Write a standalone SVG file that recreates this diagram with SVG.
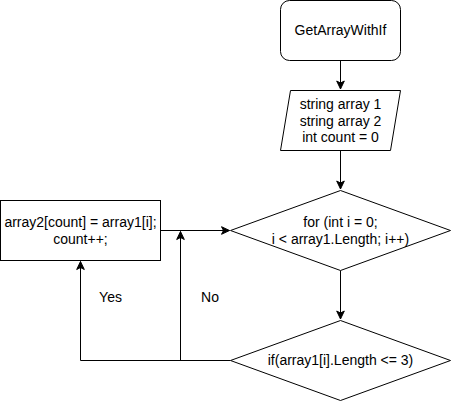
<svg xmlns="http://www.w3.org/2000/svg" width="452" height="401" viewBox="0 0 452 401">
<style>
.s{fill:#fff;stroke:#000;stroke-width:1}
.t{font-family:"Liberation Sans",Arial,sans-serif;font-size:14px;fill:#000;text-anchor:middle}
.c{fill:none;stroke:#000;stroke-width:1}
</style>
<defs>
<marker id="a" markerUnits="userSpaceOnUse" markerWidth="10" markerHeight="10" viewBox="0 0 10 10" refX="9" refY="5" orient="auto">
<path d="M1,1.2 L9,5 L1,8.8 L3,5 Z" fill="#000" stroke="#000" stroke-width="1"/>
</marker>
</defs>
<rect width="452" height="401" fill="#fff"/>
<g id="connectors">
<path class="c" d="M340.5,60.5 V89" marker-end="url(#a)"/>
<path class="c" d="M340.5,150.5 V189" marker-end="url(#a)"/>
<path class="c" d="M160.5,230.5 H229.5" marker-end="url(#a)"/>
<path class="c" d="M340.5,270.5 V319" marker-end="url(#a)"/>
<path class="c" d="M230.5,360.5 H80.5 V261.5" marker-end="url(#a)"/>
<path class="c" d="M180.5,360.5 V231.5" marker-end="url(#a)"/>
<text class="t" x="110.5" y="302">Yes</text>
<text class="t" x="210" y="302">No</text>
</g>
<g id="start">
<rect class="s" x="280.5" y="0.5" width="120" height="60" rx="9" ry="9"/>
<text class="t" x="340.5" y="35">GetArrayWithIf</text>
</g>
<g id="input">
<path class="s" d="M290.5,90.5 H400.5 L390.5,150.5 H280.5 Z"/>
<text class="t" x="340.5" y="109">string array 1</text>
<text class="t" x="340.5" y="125.5">string array 2</text>
<text class="t" x="340.5" y="142">int count = 0</text>
</g>
<g id="loop">
<path class="s" d="M340.5,190.5 L450.5,230.5 L340.5,270.5 L230.5,230.5 Z"/>
<text class="t" x="340.5" y="227">for (int i = 0;</text>
<text class="t" x="340.5" y="244">i &lt; array1.Length; i++)</text>
</g>
<g id="cond">
<path class="s" d="M340.5,320.5 L450.5,360.5 L340.5,400.5 L230.5,360.5 Z"/>
<text class="t" x="340.5" y="365">if(array1[i].Length &lt;= 3)</text>
</g>
<g id="assign">
<rect class="s" x="0.5" y="200.5" width="160" height="60"/>
<text class="t" x="80.5" y="227">array2[count] = array1[i];</text>
<text class="t" x="80.5" y="244">count++;</text>
</g>
</svg>
